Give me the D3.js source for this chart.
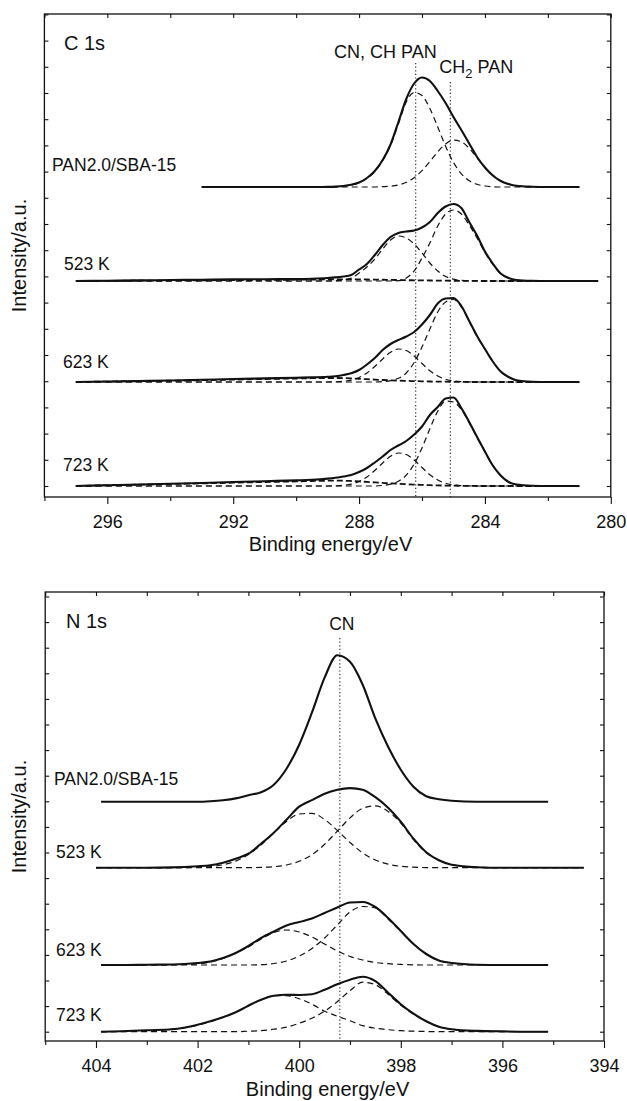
<!DOCTYPE html>
<html><head><meta charset="utf-8">
<script src="https://cdn.jsdelivr.net/npm/d3@7"></script>
<style>
body{margin:0;background:#fff}
svg{display:block}
text{font-family:"Liberation Sans",Arial,Helvetica,sans-serif;fill:#111}
</style>
</head><body>
<svg id="chart" width="627" height="1101"></svg>
<script>
// ---------------- C 1s data ----------------
const cEnergy = [297,296,295,294,293,292,291,290,289.5,289,288.75,288.5,288.25,288,287.75,287.5,287.25,287,286.75,286.5,286.25,286,285.75,285.5,285.25,285,284.75,284.5,284.25,284,283.75,283.5,283.25,283,282.5,282,281,280.4];
const cSamples = ["PAN2.0/SBA-15","523 K","623 K","723 K"];
const cOffsets = [299,205,104,0];
const cEnvPAN = [null,null,null,null,0,0,0,0,0,0.1,0.4,1,2.2,4.5,9,16,27,42.5,65,88,103.5,109.5,106,96,84,70,57,43.5,30,19.5,11.5,6,3,1.2,0.3,0,0,null];
const cC1PAN  = [null,null,null,null,0,0,0,0,0,0,0.2,0.7,1.9,4.3,8.5,15.5,26.5,41.5,63,85,94.5,91.5,78.5,60,40.7,24.6,13.2,6.3,2.7,1,0.3,0,0,0,0,0,0,null];
const cC2PAN  = [null,null,null,null,0,0,0,0,0,0,0,0,0,0,0,0,0.3,0.8,2.1,4.7,9.3,16.3,25.4,35.2,43.1,46.9,45.2,38.7,29.3,19.7,11.8,6.2,2.9,1.2,0.2,0,0,null];
const cEnv523 = [0,0.3,0.6,1,1.3,1.6,1.8,2,2.3,3,3.6,4.5,6,11.5,17,26,36,44,48,49.5,50.5,53.5,59,68,74.5,77,73,59,45.5,29.5,17.5,7.5,3,1,0.2,0,0,0];
const cC1523  = [0,0,0,0,0,0,0,0,0,0,0.3,1,3,8,14,22,32,41,45,43,37,28,18,10,4.5,1.8,0.6,0,0,0,0,0,0,0,0,0,0,0];
const cC2523  = [0,0,0,0,0,0,0,0,0,0,0,0,0,0,0,0,0,0,0.3,3,10,23,38,55,67,71,67,56,43,28.5,16.5,7.5,2.8,0.9,0.1,0,0,0];
const cBg523  = [0,0.15,0.3,0.5,0.7,0.9,1.1,1.3,1.45,1.6,1.65,1.7,1.65,1.6,1.5,1.4,1.25,1.1,0.95,0.8,0.7,0.6,0.5,0.4,0.3,0.2,0.15,0.1,0.05,0,0,0,0,0,0,0,0,null];
const cEnv623 = [0,0.5,1,1.5,2.2,3,3.6,4.2,4.6,5.2,5.8,7,8.8,12,17.5,24,32,38,42,45.5,50,57.5,67,78.5,83.5,84,76,61,46,33,20.5,10.5,5,1.8,0.3,0,0,null];
const cC1623  = [0,0,0,0,0,0,0,0,0,0,0.2,0.7,1.9,4.5,9,15.5,23,29.7,33,31.5,26,18.5,11.3,6,2.7,1.1,0.4,0.1,0,0,0,0,0,0,0,0,0,null];
const cC2623  = [0,0,0,0,0,0,0,0,0,0,0,0,0,0,0,0,0.4,1.4,3.7,9,19.5,35,53,70,80,82.5,75,60.5,45.5,33,20.5,10.5,5,1.8,0.3,0,0,null];
const cBg623  = [0,0.4,0.8,1.3,1.8,2.4,3,3.5,3.8,4,4,3.9,3.6,3.2,2.8,2.4,2,1.7,1.4,1.1,0.9,0.7,0.5,0.4,0.3,0.2,0.1,0,0,0,0,0,0,0,0,0,0,null];
const cEnv723 = [0,0.8,1.5,2.2,3,4,4.8,5.6,6.2,7.4,8.3,9.5,11,14,18,23.5,29.5,36,40.5,45,51.5,59.5,71,79,87.5,88.5,78,64,49,34.5,20.5,10.5,4,1.5,0.3,0,0,null];
const cC1723  = [0,0,0,0,0,0,0,0,0,0,0.2,0.7,1.9,4.5,9,15.5,23,29.7,33,31.5,26,18.5,11.3,6,2.7,1.1,0.4,0.1,0,0,0,0,0,0,0,0,0,null];
const cC2723  = [0,0,0,0,0,0,0,0,0,0,0,0,0,0,0,0,0.6,1.8,4.7,10.9,21.9,38,57.3,74.8,85,84,76.5,63,48.5,34,20.5,10.5,4,1.5,0.3,0,0,null];
const cBg723  = [0,0.7,1.3,2,2.6,3.3,4,4.6,5,5.3,5.4,5.3,5,4.6,4.1,3.6,3.1,2.6,2.2,1.8,1.4,1.1,0.8,0.6,0.4,0.3,0.2,0.1,0,0,0,0,0,0,0,0,0,null];
const cMarkers = [286.2, 285.1];
const cMarkerLabels = ["CN, CH PAN", "CH2 PAN"];
const cMajorTicks = [296,292,288,284,280];
const cMinorTicks = [298,294,290,286,282];

// ---------------- N 1s data ----------------
const nEnergy = [404,403.9,403.5,403,402.5,402,401.75,401.5,401.25,401,400.75,400.5,400.25,400,399.75,399.5,399.25,399,398.75,398.5,398.25,398,397.75,397.5,397.25,397,396.5,396,395.5,395.1,394.4];
const nSamples = ["PAN2.0/SBA-15","523 K","623 K","723 K"];
const nOffsets = [230,164,66.7,0];
const nEnvPAN = [null,0,0,0,0,0,0.5,1.5,3.3,6.5,9.5,17,33,57,89,124,146.5,140,117,83,55,32,15,5.5,2.5,1,0,0,0,0,null];
const nEnv523 = [0,0,0,0,0.3,1.5,2.5,5,9,14,24,35,48,61,67.6,74,78,79.6,78,70.5,60,46,29,15.5,7.5,3,0.5,0,0,0,0];
const nL523   = [0,0,0,0,0,0.4,1.1,2.9,6.6,13.2,22.9,34.8,46.3,53.7,54.4,48.2,37.3,25.2,14.8,7.7,3.5,1.4,0.5,0.1,0,0,0,0,0,0,0];
const nR523   = [0,0,0,0,0,0,0,0,0,0.1,0.3,1,2.7,6.4,13,23.4,36.5,49.8,59.4,61.8,56.3,44.7,28,15,7.5,3,0.5,0,0,0,0];
const nEnv623 = [null,0,0,0.3,0.5,2,3.5,7,12,19,27,33.5,39.5,43,46.5,52,57.5,62.5,63,58,47,34,21,11,4.5,2,0.3,0,0,0,null];
const nL623   = [null,0,0,0,0.3,1.2,3,6.5,12,18,26,32.5,35,33,28,21,14,8.5,5,2.5,1.3,0.6,0.2,0,0,0,0,0,0,0,null];
const nR623   = [null,0,0,0,0,0,0,0,0,0,0.3,1.5,4,9,16.5,27,40,53,58.5,57,46,33.5,21,11,4.5,2,0.3,0,0,0,null];
const nEnv723 = [null,0,0.5,1.5,2.5,7,10.5,14.5,19.5,26,32,36,37,36.7,37.5,42,47.5,52,55,50.5,39,27.5,18,10.5,5,2.5,0.8,0.3,0,0,null];
const nL723   = [null,0,0.3,1,2.5,6.5,10,14.5,19.5,26,32,36,36,33,27.5,20.5,15.5,11,6,3.5,2,1,0.5,0.2,0,0,0,0,0,0,null];
const nR723   = [null,0,0,0,0,0,0,0,0,0.5,1,2.5,4.5,8.5,13.5,20.5,30,41,49.5,47,37.5,26.5,17.5,10.5,5,2.5,0.8,0.3,0,0,null];
const nMarkers = [399.2];
const nMarkerLabels = ["CN"];
const nMajorTicks = [404,402,400,398,396,394];
const nMinorTicks = [405,403,401,399,397,395];

// ---------------- build ----------------
const svg = d3.select("#chart");
const FONT = '"Liberation Sans",Arial,Helvetica,sans-serif';

function zip(E, v){ return E.map((e,i)=>[e, v[i]]); }

function drawPanel(cfg){
  const x = d3.scaleLinear().domain(cfg.xDomain).range(cfg.xRange);
  const y = d3.scaleLinear().domain(cfg.yDomain).range(cfg.yRange);
  const [x0,x1] = cfg.xRange, [yb,yt] = cfg.yRange;
  const g = svg.append("g");

  cfg.markers.forEach((m,i)=>{
    g.append("line").attr("x1",x(m)).attr("x2",x(m))
      .attr("y1",cfg.markerTops[i]).attr("y2",yb)
      .attr("stroke","#222").attr("stroke-width",1.1).attr("stroke-dasharray","1.2,2.4");
  });

  const line = off => d3.line().defined(d=>d[1]!=null)
      .x(d=>x(d[0])).y(d=>y(d[1]+off)).curve(d3.curveMonotoneX);

  cfg.spectra.forEach((s,k)=>{
    const off = cfg.offsets[k];
    (s.bg||[]).forEach(v=>{
      g.append("path").datum(zip(cfg.E,v)).attr("d",line(off))
        .attr("fill","none").attr("stroke","#111").attr("stroke-width",1.8).attr("stroke-dasharray","6,3");
    });
    s.comps.forEach(v=>{
      g.append("path").datum(zip(cfg.E,v)).attr("d",line(off))
        .attr("fill","none").attr("stroke","#111").attr("stroke-width",1.2).attr("stroke-dasharray","6,4");
    });
    g.append("path").datum(zip(cfg.E,s.env)).attr("d",line(off))
      .attr("fill","none").attr("stroke","#111").attr("stroke-width",2.1).attr("stroke-linejoin","round");
    g.append("text").attr("x",cfg.labelX[k]).attr("y",y(off)-cfg.labelDy[k])
      .attr("font-size",17.5).text(cfg.samples[k]);
  });

  g.append("rect").attr("x",x0).attr("y",yt).attr("width",x1-x0).attr("height",yb-yt)
    .attr("fill","none").attr("stroke","#111").attr("stroke-width",1.3);

  const yTicks = d3.range(0, cfg.yDomain[1]+0.01, cfg.yStep);
  const bottomMajor = g.append("g").attr("transform",`translate(0,${yb})`)
    .call(d3.axisBottom(x).tickValues(cfg.major).tickSize(7).tickPadding(11).tickSizeOuter(0).tickFormat(d3.format("d")));
  g.append("g").attr("transform",`translate(0,${yb})`)
    .call(d3.axisBottom(x).tickValues(cfg.minor).tickSize(4).tickSizeOuter(0).tickFormat(""));
  g.append("g").attr("transform",`translate(0,${yt})`)
    .call(d3.axisTop(x).tickValues(cfg.major.concat(cfg.minor)).tickSize(-4).tickSizeOuter(0).tickFormat(""));
  g.append("g").attr("transform",`translate(${x0},0)`)
    .call(d3.axisLeft(y).tickValues(yTicks).tickSize(-4).tickSizeOuter(0).tickFormat(""));
  g.append("g").attr("transform",`translate(${x1},0)`)
    .call(d3.axisRight(y).tickValues(yTicks).tickSize(-4).tickSizeOuter(0).tickFormat(""));
  g.selectAll(".domain").attr("stroke","none");
  g.selectAll(".tick line").attr("stroke","#111").attr("stroke-width",1.1);
  bottomMajor.selectAll("text").attr("font-size",18).attr("font-family",FONT).attr("fill","#111");

  g.append("text").attr("x",cfg.titleX).attr("y",cfg.titleY).attr("font-size",20).text(cfg.title);
  g.append("text").attr("x",(x0+x1)/2+3).attr("y",cfg.xTitleY).attr("text-anchor","middle")
    .attr("font-size",20).text("Binding energy/eV");
  g.append("text").attr("transform",`translate(26,${(yt+yb)/2}) rotate(-90)`).attr("text-anchor","middle")
    .attr("font-size",20).text("Intensity/a.u.");

  return {x,y,g};
}

const cPanel = drawPanel({
  E: cEnergy, xDomain:[298,280], xRange:[44.4,610.8], yDomain:[-11,472], yRange:[497,14], yStep:26.2,
  major:cMajorTicks, minor:cMinorTicks, offsets:cOffsets, samples:cSamples,
  labelX:[52,64,63,63], labelDy:[16,11,14,15],
  markers:cMarkers, markerTops:[63,82],
  title:"C 1s", titleX:64, titleY:50, xTitleY:551,
  spectra:[
    {env:cEnvPAN, comps:[cC1PAN,cC2PAN]},
    {env:cEnv523, comps:[cC1523,cC2523], bg:[cBg523]},
    {env:cEnv623, comps:[cC1623,cC2623], bg:[cBg623]},
    {env:cEnv723, comps:[cC1723,cC2723], bg:[cBg723]}
  ]
});
cPanel.g.append("text").attr("x",cPanel.x(cMarkers[0])+21).attr("y",58).attr("text-anchor","end")
  .attr("font-size",18).text(cMarkerLabels[0]);
const ch2 = cPanel.g.append("text").attr("x",cPanel.x(cMarkers[1])-11).attr("y",73).attr("font-size",18);
ch2.append("tspan").text(cMarkerLabels[1].slice(0,2));
ch2.append("tspan").attr("dy",5).attr("font-size",13).text(cMarkerLabels[1].slice(2,3));
ch2.append("tspan").attr("dy",-5).text(cMarkerLabels[1].slice(3));

const nPanel = drawPanel({
  E: nEnergy, xDomain:[405,394], xRange:[45.2,604], yDomain:[-9.3,439.7], yRange:[1041,592], yStep:25.6,
  major:nMajorTicks, minor:nMinorTicks, offsets:nOffsets, samples:nSamples,
  labelX:[54,56,56,56], labelDy:[17,10,9,11],
  markers:nMarkers, markerTops:[638],
  title:"N 1s", titleX:66, titleY:628, xTitleY:1096,
  spectra:[
    {env:nEnvPAN, comps:[]},
    {env:nEnv523, comps:[nL523,nR523]},
    {env:nEnv623, comps:[nL623,nR623]},
    {env:nEnv723, comps:[nL723,nR723]}
  ]
});
nPanel.g.append("text").attr("x",nPanel.x(nMarkers[0])+2).attr("y",630).attr("text-anchor","middle")
  .attr("font-size",17.5).text(nMarkerLabels[0]);
</script>
</body></html>
